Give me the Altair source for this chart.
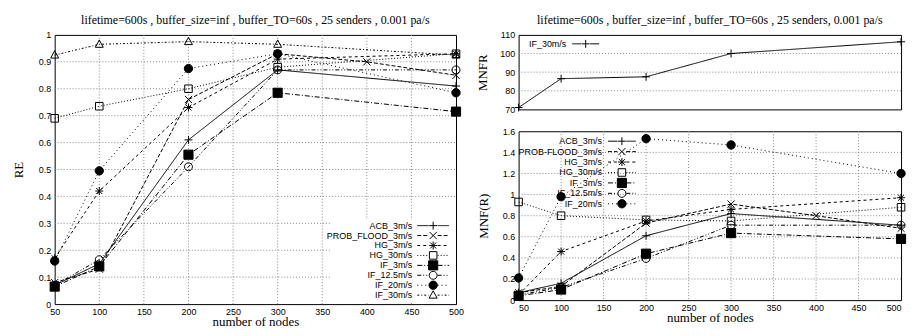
import altair as alt
import pandas as pd

# ---------------- data ----------------
nodes = [50, 100, 200, 300, 500]
nodes_pf = [50, 100, 200, 300, 400, 500]

re_names = ["ACB_3m/s", "PROB_FLOOD_3m/s", "HG_3m/s", "HG_30m/s",
            "IF_3m/s", "IF_12.5m/s", "IF_20m/s", "IF_30m/s"]
re_acb = [0.07, 0.15, 0.61, 0.87, 0.81]
re_pf = [0.08, 0.13, 0.76, 0.93, 0.90, 0.85]
re_hg3 = [0.17, 0.42, 0.73, 0.91, 0.93]
re_hg30 = [0.69, 0.735, 0.80, 0.88, 0.93]
re_if3 = [0.065, 0.14, 0.555, 0.785, 0.715]
re_if125 = [0.07, 0.165, 0.51, 0.87, 0.87]
re_if20 = [0.16, 0.495, 0.875, 0.93, 0.785]
re_if30 = [0.925, 0.965, 0.975, 0.965, 0.925]

mnfr_names = ["IF_30m/s"]
mnfr_if30 = [71, 86.5, 87.5, 100, 106.3]

mnf_names = ["ACB_3m/s", "PROB-FLOOD_3m/s", "HG_3m/s", "HG_30m/s",
             "IF_3m/s", "IF_12.5m/s", "IF_20m/s"]
mnf_acb = [0.07, 0.16, 0.61, 0.82, 0.71]
mnf_pf = [0.07, 0.13, 0.73, 0.91, 0.80, 0.68]
mnf_hg3 = [0.05, 0.46, 0.75, 0.86, 0.97]
mnf_hg30 = [0.93, 0.80, 0.76, 0.75, 0.88]
mnf_if3 = [0.04, 0.10, 0.44, 0.635, 0.58]
mnf_if125 = [0.05, 0.12, 0.395, 0.71, 0.71]
mnf_if20 = [0.21, 0.98, 1.53, 1.47, 1.20]

x_ticks = [50, 100, 150, 200, 250, 300, 350, 400, 450, 500]
re_ticks = [0, 0.1, 0.2, 0.3, 0.4, 0.5, 0.6, 0.7, 0.8, 0.9, 1]
mnfr_ticks = [70, 80, 90, 100, 110]
mnf_ticks = [0, 0.2, 0.4, 0.6, 0.8, 1, 1.2, 1.4, 1.6]

title_left = "lifetime=600s , buffer_size=inf , buffer_TO=60s , 25 senders , 0.001 pa/s"
title_right = "lifetime=600s , buffer_size=inf , buffer_TO=60s , 25 senders, 0.001 pa/s"


def frame(names, xs_list, ys_list):
    rows = []
    for n, xs, ys in zip(names, xs_list, ys_list):
        for x, y in zip(xs, ys):
            rows.append({"series": n, "nodes": x, "value": y})
    return pd.DataFrame(rows)


re_df = frame(re_names,
              [nodes, nodes_pf, nodes, nodes, nodes, nodes, nodes, nodes],
              [re_acb, re_pf, re_hg3, re_hg30, re_if3, re_if125, re_if20, re_if30])
mnfr_df = frame(mnfr_names, [nodes], [mnfr_if30])
mnf_df = frame(mnf_names,
               [nodes, nodes_pf, nodes, nodes, nodes, nodes, nodes],
               [mnf_acb, mnf_pf, mnf_hg3, mnf_hg30, mnf_if3, mnf_if125, mnf_if20])

# ---------------- styles ----------------
def m_plus(s):
    return f"M{-s:.3f},0H{s:.3f}M0,{-s:.3f}V{s:.3f}"

def m_x(s):
    return f"M{-s:.3f},{-s:.3f}L{s:.3f},{s:.3f}M{-s:.3f},{s:.3f}L{s:.3f},{-s:.3f}"

def m_star(s):
    d = s * 0.75
    return m_plus(s) + f"M{-d:.3f},{-d:.3f}L{d:.3f},{d:.3f}M{-d:.3f},{d:.3f}L{d:.3f},{-d:.3f}"

def m_square(s):
    return f"M{-s:.3f},{-s:.3f}H{s:.3f}V{s:.3f}H{-s:.3f}Z"

def m_circle(s):
    return f"M{s:.3f},0A{s:.3f},{s:.3f} 0 1,1 {-s:.3f},0A{s:.3f},{s:.3f} 0 1,1 {s:.3f},0Z"

def m_tri(s):
    return f"M0,{-1.1*s:.3f}L{s:.3f},{0.75*s:.3f}H{-s:.3f}Z"

# dash, marker, marker scale, fill
STYLE = {
    "ACB": ([1, 0], m_plus, 1.0, "transparent"),
    "PF": ([4, 2], m_x, 0.9, "transparent"),
    "HG3": ([3, 3], m_star, 1.0, "transparent"),
    "HG30": ([1, 2], m_square, 0.95, "transparent"),
    "IF3": ([5, 2, 1, 2], m_square, 1.15, "black"),
    "IF12.5": ([4, 2, 1, 2, 1, 2], m_circle, 1.0, "transparent"),
    "IF20": ([1, 3], m_circle, 1.05, "black"),
    "IF30": ([2, 2, 1, 2], m_tri, 1.0, "transparent"),
}
re_keys = ["ACB", "PF", "HG3", "HG30", "IF3", "IF12.5", "IF20", "IF30"]
mnfr_keys = ["ACB"]
mnf_keys = ["ACB", "PF", "HG3", "HG30", "IF3", "IF12.5", "IF20"]

IND = dict(x="independent", y="independent", shape="independent",
           fill="independent", strokeDash="independent")
GRID = dict(color="#888888", strokeDash=[1, 2], strokeWidth=1)


def panel(df, names, keys, ydomain, yticks, yfmt, ytitle, width, height,
          leg, xaxis=True, title=None, ytitle_pad=14, flush=False):
    """leg: dict(label_end, sym0, sym1, row0, step, bg=(x0,x1,y0,y1) or None)"""
    n = len(names)
    xscale = alt.Scale(domain=[50, 500], nice=False, zero=False)
    yscale = alt.Scale(domain=ydomain, nice=False, zero=False)
    xaxis_def = alt.Axis(values=x_ticks, title="number of nodes", grid=False,
                         labelPadding=3, titlePadding=0, labelFlush=flush) if xaxis else None
    yaxis_def = alt.Axis(values=yticks, format=yfmt, title=ytitle, grid=False,
                         titlePadding=ytitle_pad)
    dash_enc = alt.StrokeDash("series:N", legend=None,
                              scale=alt.Scale(domain=names,
                                              range=[STYLE[k][0] for k in keys]))
    shape_enc = alt.Shape("series:N", legend=None,
                          scale=alt.Scale(domain=names,
                                          range=[STYLE[k][1](STYLE[k][2]) for k in keys]))
    fill_enc = alt.Fill("series:N", legend=None,
                        scale=alt.Scale(domain=names, range=[STYLE[k][3] for k in keys]))

    layers = []
    # grid (dotted, gnuplot style)
    if xaxis:
        gx = pd.DataFrame({"t": x_ticks[1:-1]})
        layers.append(alt.Chart(gx).mark_rule(**GRID).encode(
            x=alt.X("t:Q", scale=xscale, axis=xaxis_def),
            y=alt.value(0), y2=alt.value(height)))
    gy = pd.DataFrame({"t": yticks[1:-1]})
    layers.append(alt.Chart(gy).mark_rule(**GRID).encode(
        y=alt.Y("t:Q", scale=yscale, axis=None),
        x=alt.value(0), x2=alt.value(width)))

    if leg.get("bg"):
        x0, x1, y0, y1 = leg["bg"]
        layers.append(alt.Chart(pd.DataFrame({"k": [0]})).mark_rect(
            color="white", opacity=1).encode(
            x=alt.value(x0), x2=alt.value(x1), y=alt.value(y0), y2=alt.value(y1)))

    lines = alt.Chart(df).mark_line(color="black", strokeWidth=1).encode(
        x=alt.X("nodes:Q", scale=xscale, axis=xaxis_def),
        y=alt.Y("value:Q", scale=yscale, axis=yaxis_def),
        detail="series:N", order="nodes:Q", strokeDash=dash_enc)
    pts = alt.Chart(df).mark_point(filled=False, stroke="black", strokeWidth=1,
                                   size=64, opacity=1).encode(
        x=alt.X("nodes:Q", scale=xscale, axis=xaxis_def),
        y=alt.Y("value:Q", scale=yscale, axis=None),
        shape=shape_enc, fill=fill_enc)
    layers += [lines, pts]

    # ---- key (gnuplot style: label, then line sample with marker) ----
    ldf = pd.DataFrame({"series": names, "rank": list(range(n))})
    last = max(n - 1, 1)
    yrank = alt.Y("rank:Q", axis=None,
                  scale=alt.Scale(domain=[0, last],
                                  range=[leg["row0"], leg["row0"] + last * leg["step"]]))
    mid = (leg["sym0"] + leg["sym1"]) / 2.0
    gap = 4.5
    base = alt.Chart(ldf)
    key_l = base.mark_rule(color="black", strokeWidth=1).encode(
        x=alt.value(leg["sym0"]), x2=alt.value(mid - gap), y=yrank, strokeDash=dash_enc)
    key_r = base.mark_rule(color="black", strokeWidth=1).encode(
        x=alt.value(mid + gap), x2=alt.value(leg["sym1"]), y=yrank, strokeDash=dash_enc)
    key_p = base.mark_point(filled=False, stroke="black", strokeWidth=1,
                            size=64, opacity=1).encode(
        x=alt.value(mid), y=yrank, shape=shape_enc, fill=fill_enc)
    key_t = base.mark_text(align="right", baseline="middle", font="Liberation Sans",
                           fontSize=9, color="black").encode(
        x=alt.value(leg["label_end"]), y=yrank, text="series:N")
    layers += [key_l, key_r, key_p, key_t]

    props = dict(width=width, height=height)
    if title:
        props["title"] = alt.TitleParams(text=title, anchor="middle")
    return alt.layer(*layers).resolve_scale(y="independent").properties(**props)


left = panel(re_df, re_names, re_keys, [0, 1], re_ticks, "~g", "RE", 404, 271,
             dict(label_end=360, sym0=365, sym1=397, row0=192, step=10,
                  bg=(277, 403, 186, 269)),
             title=title_left, ytitle_pad=13)
top = panel(mnfr_df, mnfr_names, mnfr_keys, [70, 110], mnfr_ticks, "d", "MNFR", 385, 75,
            dict(label_end=48, sym0=54, sym1=81, row0=9, step=10),
            xaxis=False, title=title_right, ytitle_pad=10)
bottom = panel(mnf_df, mnf_names, mnf_keys, [0, 1.6], mnf_ticks, "~g", "MNF(R)", 385, 170,
               dict(label_end=84, sym0=90, sym1=118, row0=10, step=10.5),
               ytitle_pad=12, flush=True)

right = alt.vconcat(top, bottom, spacing=22, bounds="flush").resolve_scale(
    **IND).resolve_axis(x="independent", y="independent")
chart = alt.hconcat(left, right, spacing=63, bounds="flush").resolve_scale(
    **IND).resolve_axis(x="independent", y="independent").properties(
    padding={"left": 3, "top": 4, "right": 0, "bottom": 0}
).configure_view(stroke="black", strokeWidth=1).configure_axis(
    domain=False, ticks=False, labelFont="Liberation Sans", labelFontSize=9,
    labelColor="black", labelPadding=4, titleFont="Liberation Serif",
    titleFontSize=13, titleFontWeight="normal", titleColor="black"
).configure_title(font="Liberation Serif", fontSize=12, fontWeight="normal",
                  color="black", offset=4)

chart.save("out.html", embed_options={"renderer": "svg", "actions": False})
